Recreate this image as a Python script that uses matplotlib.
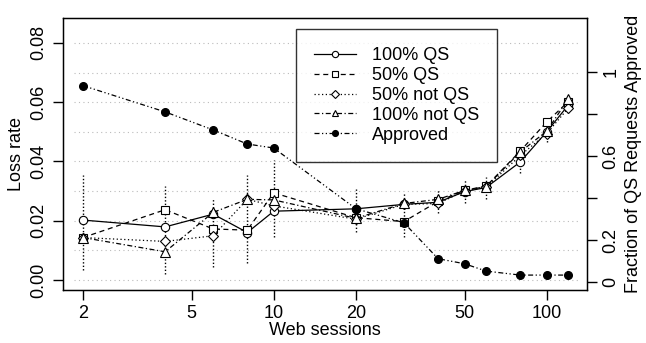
import numpy as np
import matplotlib
matplotlib.use("Agg")
import matplotlib.pyplot as plt
from matplotlib.legend_handler import HandlerLine2D

plt.rcParams['font.family'] = ['Liberation Sans', 'DejaVu Sans']

# ---- data ----
sessions = [2, 4, 6, 8, 10, 20, 30, 40, 50, 60, 80, 100, 120]
qs100 = [0.0202, 0.0179, 0.0222, 0.0160, 0.0232, 0.0240, 0.0255, 0.0262, 0.0298, 0.0312, 0.0398, 0.0500, 0.0590]
qs50 = [0.0143, 0.0237, 0.0172, 0.0168, 0.0294, 0.0210, 0.0197, 0.0265, 0.0303, 0.0316, 0.0435, 0.0533, 0.0602]
notqs50 = [0.0143, 0.0130, 0.0149, 0.0272, 0.0250, 0.0205, 0.0255, 0.0258, 0.0300, 0.0312, 0.0420, 0.0494, 0.0580]
notqs100 = [0.0143, 0.0095, 0.0228, 0.0272, 0.0270, 0.0208, 0.0258, 0.0272, 0.0302, 0.0315, 0.0432, 0.0502, 0.0611]
err_low = [0.0035, 0.0020, 0.0044, 0.0057, 0.0146, 0.0163, 0.0146, 0.0225, 0.0259, 0.0272, 0.0360, 0.0467, 0.0563]
err_high = [0.0355, 0.0317, 0.0277, 0.0354, 0.0405, 0.0307, 0.0293, 0.0306, 0.0340, 0.0347, 0.0450, 0.0540, 0.0625]
approved = [0.935, 0.81, 0.724, 0.657, 0.638, 0.349, 0.282, 0.111, 0.087, 0.052, 0.033, 0.033, 0.033]

x_ticks = [2, 5, 10, 20, 50, 100]
left_ticks = [0.00, 0.02, 0.04, 0.06, 0.08]
right_ticks = [0, 0.2, 0.4, 0.6, 0.8, 1.0]
right_labels = ["0", "0.2", "", "0.6", "", "1"]

FS = 13

fig = plt.figure(figsize=(6.46, 3.43), dpi=100)
ax = fig.add_axes([63/646, 1-290/343, (587-63)/646, (290-18)/343])
ax.set_xscale('log')
ax.set_xlim(1.69, 140.5)
ax.set_ylim(-0.0034, 0.0884)

# grid lines
for g in np.arange(0, 0.0801, 0.01):
    ax.plot([1.86, 130], [g, g], color='#bbbbbb', lw=0.8, ls=(0, (1, 3)), zorder=0)

# error bars
for xv, lo, hi in zip(sessions, err_low, err_high):
    ax.plot([xv, xv], [lo, hi], color='black', lw=1.0, ls=(0, (1, 1.5)), zorder=1)

ms = 6
h1, = ax.plot(sessions, qs100, color='black', lw=0.9, ls='-', marker='o', mfc='white', mec='black', ms=ms, mew=0.8, label='100% QS')
h2, = ax.plot(sessions, qs50, color='black', lw=0.9, ls=(0, (4, 3)), marker='s', mfc='white', mec='black', ms=ms-0.5, mew=0.8, label='50% QS')
h3, = ax.plot(sessions, notqs50, color='black', lw=0.9, ls=(0, (1, 2)), marker='D', mfc='white', mec='black', ms=ms-1, mew=0.8, label='50% not QS')
h4, = ax.plot(sessions, notqs100, color='black', lw=0.9, ls=(0, (4, 2, 1, 2)), marker='^', mfc='white', mec='black', ms=ms+0.5, mew=0.8, label='100% not QS')

ax.set_xticks(x_ticks)
ax.set_xticklabels([str(t) for t in x_ticks], fontsize=FS)
ax.xaxis.set_minor_locator(matplotlib.ticker.NullLocator())
ax.set_yticks(left_ticks)
ax.set_yticklabels(["%.2f" % t for t in left_ticks], fontsize=FS, rotation=90, va='center')
ax.tick_params(axis='both', direction='out', length=7, width=1, pad=4)
ax.set_xlabel('Web sessions', fontsize=FS, labelpad=0)
ax.set_ylabel('Loss rate', fontsize=FS, labelpad=4)
for s in ax.spines.values():
    s.set_linewidth(1.0)

ax2 = ax.twinx()
ax2.set_ylim(-0.038, 1.257)
h5, = ax2.plot(sessions, approved, color='black', lw=0.9, ls=(0, (4, 2, 1, 2, 1, 2)), marker='o', mfc='black', mec='black', ms=5.5, label='Approved', zorder=3)
ax2.set_yticks(right_ticks)
ax2.set_yticklabels(right_labels, fontsize=FS, rotation=90, va='center')
ax2.tick_params(axis='y', direction='out', length=7, width=1, pad=4)
ax2.set_ylabel('Fraction of QS Requests Approved', fontsize=FS, labelpad=4)
ax2.xaxis.set_minor_locator(matplotlib.ticker.NullLocator())


class EndMarker(HandlerLine2D):
    def get_xdata(self, legend, xdescent, ydescent, width, height, fontsize):
        return [-xdescent, -xdescent + width], [-xdescent + width]


handles = [h1, h2, h3, h4, h5]
leg = ax2.legend(handles=handles, loc='upper left', bbox_to_anchor=(0.4447, 0.9596),
                 fontsize=FS, frameon=True, fancybox=False, edgecolor='black',
                 handlelength=2.3, handletextpad=0.9, labelspacing=0.16,
                 borderpad=1.0, borderaxespad=0, markerscale=0.75,
                 handler_map={h: EndMarker() for h in handles})
leg.get_frame().set_linewidth(1.0)

fig.savefig('out.png', dpi=100)
